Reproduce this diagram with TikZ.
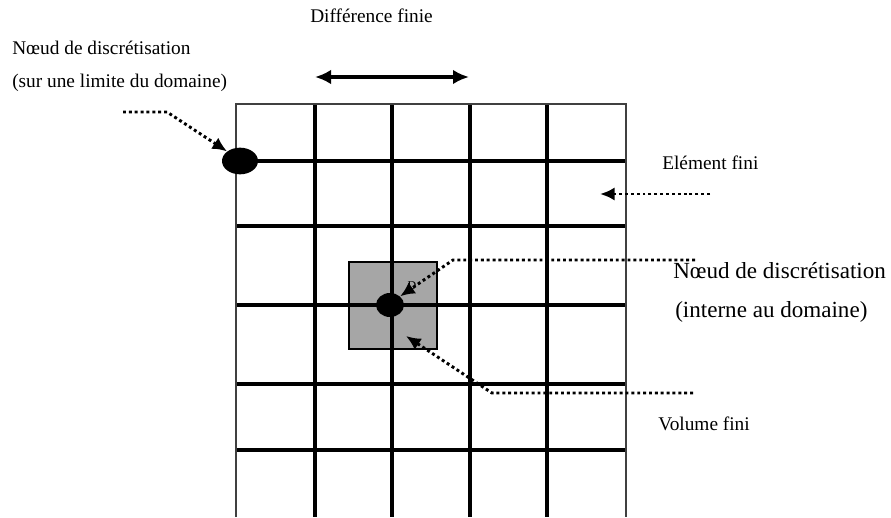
\documentclass[tikz,border=0pt]{standalone}
\usepackage{fontspec}
\setmainfont{Liberation Serif}
\usetikzlibrary{arrows.meta,shapes.geometric}

\begin{document}
\begin{tikzpicture}[x=0.75pt,y=-0.75pt,
  gridline/.style={line width=2.3pt,black},
  borderline/.style={line width=1.9pt,black!75},
  dot_node/.style={ellipse,fill=black,inner sep=0pt},
  label_node/.style={anchor=base west,inner sep=0pt},
  dotarrow/.style={line width=2.2pt,dash pattern=on 2.2pt off 2.2pt,
    -{Latex[length=11pt,width=10pt]}},
  bigtext/.style={font=\fontsize{14.5}{16}\selectfont},
  hugetext/.style={font=\fontsize{17.3}{19}\selectfont}]
  \useasboundingbox (0,0) rectangle (891,517);

  % volume fini (cellule grise)
  \draw[fill=black!35,line width=1pt] (349,262) rectangle (437,349);

  % maillage
  \foreach \x in {315,392,470,547}
    \draw[gridline] (\x,104) -- (\x,517);
  \foreach \y in {161,226,305,384,450}
    \draw[gridline] (236,\y) -- (626,\y);
  \draw[borderline] (236,517) -- (236,104) -- (626,104) -- (626,517);

  % noeuds
  \node[dot_node,minimum width=27pt,minimum height=20pt] (bnd) at (240,161) {};
  \node[dot_node,minimum width=21pt,minimum height=18pt] (inn) at (390,305) {};

  % textes
  \node[label_node,bigtext] (difflab) at (310,23) {Différence finie};
  \node[label_node,bigtext] (bndlab1) at (12,55) {Nœud de discrétisation};
  \node[label_node,bigtext] (bndlab2) at (12,88) {(sur une limite du domaine)};
  \node[label_node,bigtext] (elemlab) at (662,169) {Elément fini};
  \node[label_node,hugetext] (innlab1) at (673,278) {Nœud de discrétisation};
  \node[label_node,hugetext] (innlab2) at (675,317) {(interne au domaine)};
  \node[label_node,bigtext] (vollab) at (658,430) {Volume fini};

  % fleches
  \coordinate (dl) at (315,77);
  \coordinate (dr) at (469,77);
  \draw[line width=2.4pt,{Latex[length=12pt,width=11pt]}-{Latex[length=12pt,width=11pt]}] (dl) -- (dr);

  \coordinate (b0) at (123,112);
  \coordinate (b1) at (167,112);
  \draw[dotarrow] (b0) -- (b1) -- (bnd.north west);

  \coordinate (e0) at (710,194);
  \coordinate (e1) at (600,194);
  \draw[dotarrow] (e0) -- (e1);

  \coordinate (i0) at (695,260);
  \coordinate (i1) at (453,260);
  \draw[dotarrow] (i0) -- (i1) -- (inn.north east);

  \coordinate (v0) at (693,393);
  \coordinate (v1) at (492,393);
  \coordinate (v2) at (406,336);
  \draw[dotarrow] (v0) -- (v1) -- (v2);

  \node[font=\fontsize{9}{10}\selectfont,inner sep=0pt] (dlab) at (412,286) {D};
\end{tikzpicture}
\end{document}
